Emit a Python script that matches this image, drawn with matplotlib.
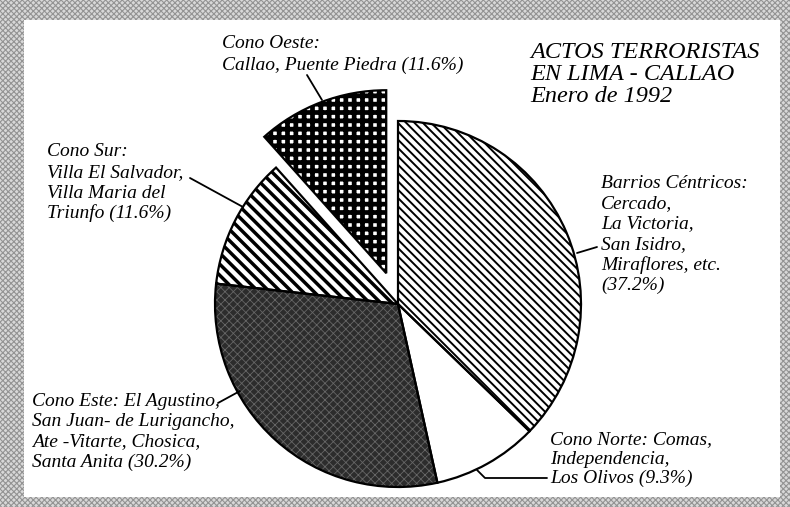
#!/usr/bin/env python3
"""
plot.py - Actos terroristas en Lima - Callao, enero 1992 (pie chart)
"""

import matplotlib
matplotlib.use('Agg')
import matplotlib.pyplot as plt
import matplotlib.patches as mpatches

# Data
zones = ['Barrios Céntricos', 'Cono Norte', 'Cono Este', 'Cono Sur', 'Cono Oeste']
shares = [37.2, 9.3, 30.2, 11.6, 11.6]

barrios_lines = ['Barrios Céntricos:', 'Cercado,', 'La Victoria,', 'San Isidro,',
                 'Miraflores, etc.', '({:.1f}%)']
norte_lines = ['Cono Norte: Comas,', 'Independencia,', 'Los Olivos ({:.1f}%)']
este_lines = ['Cono Este: El Agustino,', 'San Juan- de Lurigancho,',
              'Ate -Vitarte, Chosica,', 'Santa Anita ({:.1f}%)']
sur_lines = ['Cono Sur:', 'Villa El Salvador,', 'Villa Maria del', 'Triunfo ({:.1f}%)']
oeste_lines = ['Cono Oeste:', 'Callao, Puente Piedra ({:.1f}%)']
title_lines = ['ACTOS TERRORISTAS', 'EN LIMA - CALLAO', 'Enero de 1992']

W, H = 790, 507
FONT = ['Liberation Serif', 'DejaVu Serif']

fig = plt.figure(figsize=(W / 100, H / 100), dpi=100)
ax = fig.add_axes([0, 0, 1, 1])

# Pie (pixel coordinates, y axis inverted afterwards -> start at -90, counterclock)
radius = 183
explode = [0, 0, 0, 0, 0.18 * radius]
wedges, _ = ax.pie(shares, startangle=-90, counterclock=True,
                   center=(398, 304), radius=radius, explode=explode,
                   wedgeprops=dict(linewidth=0), frame=True)

# face, hatch, hatch colour, hatch linewidth
styles = [
    ('white', '\\\\\\\\', 'black', 1.4),
    ('white', None, 'black', 1.0),
    ('#2c2c2c', 'xxxx', '#666666', 0.6),
    ('white', '\\\\\\', 'black', 2.5),
    ('white', '++', 'black', 3.4),
]
for w, (fc, hatch, hc, hlw) in zip(wedges, styles):
    w.set_facecolor(fc)
    w.set_edgecolor(hc)
    w.set_zorder(2)
    if hatch:
        w.set_hatch(hatch)
        if hasattr(w, 'set_hatch_linewidth'):
            w.set_hatch_linewidth(hlw)
    outline = mpatches.Wedge(w.center, w.r, w.theta1, w.theta2, fill=False,
                             edgecolor='black', linewidth=1.6, zorder=3)
    ax.add_patch(outline)

ax.set_xlim(0, W)
ax.set_ylim(H, 0)
ax.set_aspect('equal')
ax.axis('off')

# Halftone frame around white panel
frame = mpatches.Rectangle((0, 0), W, H, facecolor='#d8d8d8', edgecolor='#939393',
                           hatch='xxxxxx', linewidth=0, zorder=0)
if hasattr(frame, 'set_hatch_linewidth'):
    frame.set_hatch_linewidth(0.8)
ax.add_patch(frame)
ax.add_patch(mpatches.Rectangle((24, 20), 780 - 24, 497 - 20, facecolor='white',
                                edgecolor='none', zorder=1))


def draw_lines(lines, x, y0, dy, pct=None, size=14):
    for i, line in enumerate(lines):
        if pct is not None:
            line = line.format(pct)
        ax.text(x, y0 + i * dy, line, fontsize=size, family=FONT, style='italic',
                va='center', ha='left', color='black', zorder=5)


draw_lines(title_lines, 530, 52, 22.5, size=17.5)
draw_lines(oeste_lines, 222, 44, 21, shares[4])
draw_lines(sur_lines, 47, 152, 20.5, shares[3])
draw_lines(barrios_lines, 601, 183, 20.5, shares[0])
draw_lines(este_lines, 32, 402, 20, shares[2])
draw_lines(norte_lines, 550, 440, 19, shares[1])

# Leader lines
leader = dict(color='black', linewidth=1.3, zorder=4, solid_capstyle='round')
ax.plot([307, 322], [75, 100], **leader)
ax.plot([190, 243], [178, 207], **leader)
ax.plot([577, 597], [253, 247], **leader)
ax.plot([218, 240], [403, 391], **leader)
ax.plot([477, 485, 547], [470, 478, 478], **leader)

fig.savefig('out.png', dpi=100)
